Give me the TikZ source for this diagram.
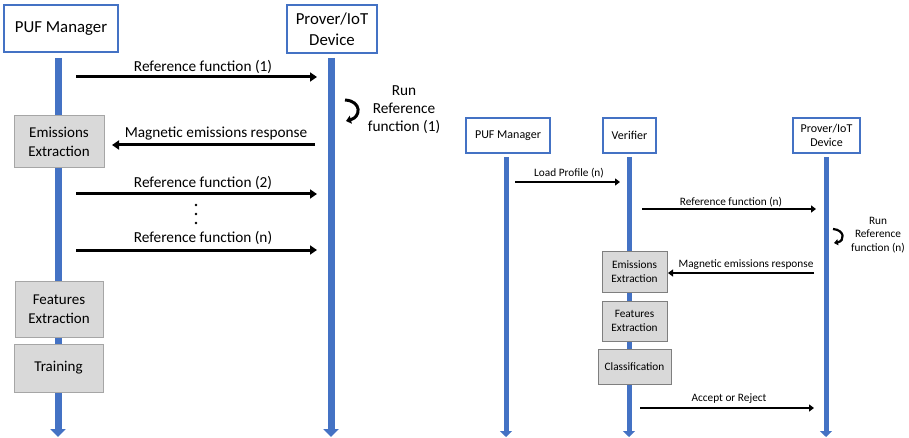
\documentclass[tikz,border=0pt]{standalone}
\usepackage{fontspec}
\setmainfont{Carlito}
\usetikzlibrary{arrows.meta}
\definecolor{lblue}{HTML}{4472C4}
\definecolor{boxgray}{HTML}{D9D9D9}
\definecolor{bordgray}{HTML}{A6A6A6}
\definecolor{bordgrayR}{HTML}{7F7F7F}
\begin{document}
\begin{tikzpicture}[x=1pt,y=-1pt,
  hdrL/.style={draw=lblue, line width=2pt, fill=white, align=center, inner sep=0pt, font=\fontsize{16.8}{21}\selectfont},
  hdrR/.style={draw=lblue, line width=1.5pt, fill=white, align=center, inner sep=0pt, font=\fontsize{12}{14.5}\selectfont},
  gboxL/.style={draw=bordgray, line width=1pt, fill=boxgray, align=center, inner sep=0pt, font=\fontsize{15}{19}\selectfont},
  gboxR/.style={draw=bordgrayR, line width=0.8pt, fill=boxgray, align=center, inner sep=0pt, font=\fontsize{11.3}{13.8}\selectfont},
  lifeL/.style={draw=lblue, line width=7pt, -{Triangle[length=8pt,width=15pt]}},
  lifeR/.style={draw=lblue, line width=5pt, -{Triangle[length=6pt,width=12pt]}},
  msgL/.style={draw=black, line width=3pt, -{Triangle[length=7pt,width=9pt]}},
  msgR/.style={draw=black, line width=2.2pt, -{Triangle[length=5pt,width=7pt]}},
  lblL/.style={inner sep=0pt, align=center, font=\fontsize{15.3}{18}\selectfont},
  lblR/.style={inner sep=0pt, align=center, font=\fontsize{11.3}{13.5}\selectfont},
  loopL/.style={draw=black, line width=3pt, -{Triangle[length=5pt,width=8pt]}},
  loopR/.style={draw=black, line width=2.2pt, -{Triangle[length=4pt,width=6pt]}}
]
\useasboundingbox (0,0) rectangle (909,438);

% ---------- left panel ----------
\coordinate (lpTop) at (58,58);   \coordinate (lpBot) at (58,437);
\coordinate (lvTop) at (331,58);  \coordinate (lvBot) at (331,437);
\draw[lifeL] (lpTop) -- (lpBot);
\draw[lifeL] (lvTop) -- (lvBot);

\node[hdrL, minimum width=114pt, minimum height=47pt] (lpuf) at (61,28.5) {PUF Manager};
\node[hdrL, minimum width=90pt, minimum height=48pt] (lprov) at (332,29) {Prover/IoT\\Device};

\node[gboxL, minimum width=90pt, minimum height=52pt] (lemis) at (59,142) {Emissions\\Extraction};
\node[gboxL, minimum width=88pt, minimum height=56pt] (lfeat) at (59,309) {Features\\Extraction};
\node[gboxL, minimum width=89pt, minimum height=48pt] (ltrain) at (58.5,368) {Training};

\coordinate (a1s) at (76,77);  \coordinate (a1e) at (317,77);
\coordinate (a2s) at (315,145); \coordinate (a2e) at (112,145);
\coordinate (a3s) at (76,194); \coordinate (a3e) at (317,194);
\coordinate (a4s) at (76,250); \coordinate (a4e) at (317,250);
\draw[msgL] (a1s) -- (a1e);
\draw[msgL] (a2s) -- (a2e);
\draw[msgL] (a3s) -- (a3e);
\draw[msgL] (a4s) -- (a4e);

\node[lblL] (t1) at (203,67) {Reference function (1)};
\node[lblL] (t2) at (216,134) {Magnetic emissions response};
\node[lblL] (t3) at (203,183) {Reference function (2)};
\node[lblL] (t4) at (203,238) {Reference function (n)};
\node[lblL] (run1) at (404,110) {Run\\Reference\\function (1)};

\coordinate (c1s) at (345,100); \coordinate (c1e) at (346,121);
\draw[loopL] (c1s) .. controls (362,101) and (361,117) .. (c1e);

\fill (196,205) circle (1.3pt) coordinate (d1);
\fill (196,214) circle (1.3pt) coordinate (d2);
\fill (196,223) circle (1.3pt) coordinate (d3);

% ---------- right panel ----------
\coordinate (rpTop) at (506,157); \coordinate (rpBot) at (506,437);
\coordinate (rvTop) at (629,157); \coordinate (rvBot) at (629,437);
\coordinate (rdTop) at (826,157); \coordinate (rdBot) at (826,437);
\draw[lifeR] (rpTop) -- (rpBot);
\draw[lifeR] (rvTop) -- (rvBot);
\draw[lifeR] (rdTop) -- (rdBot);

\node[hdrR, minimum width=84pt, minimum height=35pt] (rpuf) at (508,135.5) {PUF Manager};
\node[hdrR, minimum width=53pt, minimum height=35pt] (rver) at (629.5,135.5) {Verifier};
\node[hdrR, minimum width=67pt, minimum height=35pt] (rprov) at (826.5,135.5) {Prover/IoT\\Device};

\node[gboxR, minimum width=65pt, minimum height=41pt] (remis) at (634.5,271.5) {Emissions\\Extraction};
\node[gboxR, minimum width=65pt, minimum height=40pt] (rfeat) at (634.5,321) {Features\\Extraction};
\node[gboxR, minimum width=73pt, minimum height=35pt] (rclass) at (634.5,366.5) {Classification};

\coordinate (b1s) at (515,182); \coordinate (b1e) at (620,182);
\coordinate (b2s) at (642,209); \coordinate (b2e) at (816,209);
\coordinate (b3s) at (814,273); \coordinate (b3e) at (668,273);
\coordinate (b4s) at (640,408); \coordinate (b4e) at (814,408);
\draw[msgR] (b1s) -- (b1e);
\draw[msgR] (b2s) -- (b2e);
\draw[msgR] (b3s) -- (b3e);
\draw[msgR] (b4s) -- (b4e);

\node[lblR] (u1) at (569,173) {Load Profile (n)};
\node[lblR] (u2) at (731,202) {Reference function (n)};
\node[lblR] (u3) at (746,265) {Magnetic emissions response};
\node[lblR] (u4) at (729,399) {Accept or Reject};
\node[lblR] (run2) at (878,235) {Run\\Reference\\function (n)};

\coordinate (c2s) at (833,229); \coordinate (c2e) at (834,243);
\draw[loopR] (c2s) .. controls (845,230) and (845,241) .. (c2e);
\end{tikzpicture}
\end{document}
